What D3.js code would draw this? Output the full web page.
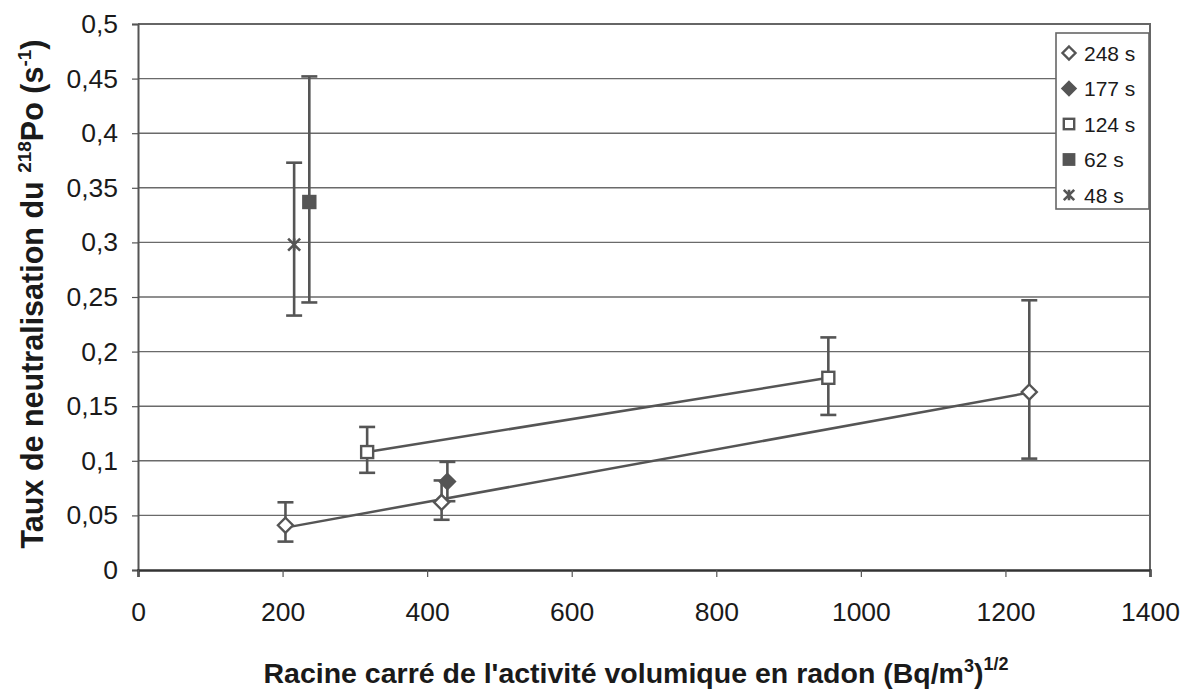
<!DOCTYPE html>
<html>
<head>
<meta charset="utf-8">
<script src="https://cdn.jsdelivr.net/npm/d3@7"></script>
<style>
  html, body { margin: 0; padding: 0; background: #fff; }
  svg { display: block; font-family: "Liberation Sans", Arial, sans-serif; }
</style>
</head>
<body>
<svg id="chart" width="1183" height="692"></svg>
<script>
// Series: neutralisation rate of 218Po vs sqrt of radon activity
const seriesNames = ["248 s", "177 s", "124 s", "62 s", "48 s"];
const markers     = ["diamondOpen", "diamondFilled", "squareOpen", "squareFilled", "star"];

const x248  = [204, 420, 1233];
const y248  = [0.041, 0.062, 0.163];
const lo248 = [0.026, 0.046, 0.102];
const hi248 = [0.062, 0.082, 0.247];

const x177  = [428];
const y177  = [0.081];
const lo177 = [0.063];
const hi177 = [0.099];

const x124  = [317, 955];
const y124  = [0.108, 0.176];
const lo124 = [0.089, 0.142];
const hi124 = [0.131, 0.213];

const x62   = [237];
const y62   = [0.337];
const lo62  = [0.245];
const hi62  = [0.452];

const x48   = [216];
const y48   = [0.298];
const lo48  = [0.233];
const hi48  = [0.373];

const xTicks = [0, 200, 400, 600, 800, 1000, 1200, 1400];
const yTicks = [0, 0.05, 0.1, 0.15, 0.2, 0.25, 0.3, 0.35, 0.4, 0.45, 0.5];

// series with a linear trend line
const trendSeries = ["248 s", "124 s"];

const build = (name, xs, ys, los, his) =>
  xs.map((x, i) => ({ series: name, x, y: ys[i], lo: los[i], hi: his[i] }));

const data = [
  build("248 s", x248, y248, lo248, hi248),
  build("177 s", x177, y177, lo177, hi177),
  build("124 s", x124, y124, lo124, hi124),
  build("62 s",  x62,  y62,  lo62,  hi62),
  build("48 s",  x48,  y48,  lo48,  hi48)
];

const ink = "#555";
const textInk = "#1a1a1a";
const svg = d3.select("#chart");
const margin = { left: 138, right: 1150, top: 24, bottom: 570 };

const x = d3.scaleLinear().domain([0, 1400]).range([margin.left, margin.right]);
const y = d3.scaleLinear().domain([0, 0.5]).range([margin.bottom, margin.top]);

// horizontal gridlines
svg.append("g")
  .selectAll("line")
  .data(yTicks.filter(t => t > 0))
  .join("line")
  .attr("x1", margin.left).attr("x2", margin.right)
  .attr("y1", d => y(d)).attr("y2", d => y(d))
  .attr("stroke", "#6a6a6a").attr("stroke-width", 1.4);

// plot frame (top and right)
svg.append("path")
  .attr("d", `M${margin.left},${margin.top}H${margin.right}V${margin.bottom}`)
  .attr("fill", "none").attr("stroke", "#666").attr("stroke-width", 2);

const fmt = d => String(d).replace(".", ",");

// y axis
const yAxis = svg.append("g")
  .attr("transform", `translate(${margin.left},0)`)
  .call(d3.axisLeft(y).tickValues(yTicks).tickFormat(fmt).tickSize(6).tickPadding(14));
yAxis.select(".domain").attr("stroke", "#555").attr("stroke-width", 2);
yAxis.selectAll(".tick line").attr("stroke", "#555").attr("stroke-width", 1.2);
yAxis.selectAll("text")
  .attr("font-size", 26.5).attr("fill", textInk)
  .attr("font-family", "'Liberation Sans', Arial, sans-serif");

// x axis
const xAxis = svg.append("g")
  .attr("transform", `translate(0,${margin.bottom})`)
  .call(d3.axisBottom(x).tickValues(xTicks).tickFormat(d3.format("d")).tickSize(7).tickPadding(25));
xAxis.select(".domain").attr("stroke", "#333").attr("stroke-width", 2.5);
xAxis.selectAll(".tick line").attr("stroke", "#555").attr("stroke-width", 1.2);
xAxis.selectAll("text")
  .attr("font-size", 26.5).attr("fill", textInk)
  .attr("font-family", "'Liberation Sans', Arial, sans-serif");

// trend lines (least squares fit across each series' x range)
trendSeries.forEach(name => {
  const pts = data[seriesNames.indexOf(name)];
  const mx = d3.mean(pts, d => d.x), my = d3.mean(pts, d => d.y);
  const sxy = d3.sum(pts, d => (d.x - mx) * (d.y - my));
  const sxx = d3.sum(pts, d => (d.x - mx) ** 2);
  const slope = sxy / sxx, icpt = my - slope * mx;
  const [x0, x1] = d3.extent(pts, d => d.x);
  svg.append("line")
    .attr("x1", x(x0)).attr("y1", y(icpt + slope * x0))
    .attr("x2", x(x1)).attr("y2", y(icpt + slope * x1))
    .attr("stroke", ink).attr("stroke-width", 2.5);
});

// error bars
const cap = 8;
const allPts = data.flat();
const eb = svg.append("g").attr("stroke", ink).attr("stroke-width", 2.6).attr("fill", "none");
allPts.forEach(d => {
  const cx = x(d.x);
  eb.append("line").attr("x1", cx).attr("x2", cx).attr("y1", y(d.lo)).attr("y2", y(d.hi));
  eb.append("line").attr("x1", cx - cap).attr("x2", cx + cap).attr("y1", y(d.lo)).attr("y2", y(d.lo));
  eb.append("line").attr("x1", cx - cap).attr("x2", cx + cap).attr("y1", y(d.hi)).attr("y2", y(d.hi));
});

// marker drawing
function drawMarker(g, type, cx, cy, s) {
  const h = s / 2;
  if (type === "diamondOpen" || type === "diamondFilled") {
    g.append("path")
      .attr("d", `M${cx},${cy - h}L${cx + h},${cy}L${cx},${cy + h}L${cx - h},${cy}Z`)
      .attr("fill", type === "diamondOpen" ? "#fff" : ink)
      .attr("stroke", ink).attr("stroke-width", 2.4);
  } else if (type === "squareOpen" || type === "squareFilled") {
    const q = h * 0.8;
    g.append("rect")
      .attr("x", cx - q).attr("y", cy - q).attr("width", 2 * q).attr("height", 2 * q)
      .attr("fill", type === "squareOpen" ? "#fff" : ink)
      .attr("stroke", ink).attr("stroke-width", 2.4);
  } else if (type === "star") {
    const q = h * 0.8;
    g.append("path")
      .attr("d", `M${cx - q},${cy - q}L${cx + q},${cy + q}M${cx + q},${cy - q}L${cx - q},${cy + q}M${cx},${cy - q}V${cy + q}`)
      .attr("fill", "none").attr("stroke", ink).attr("stroke-width", 2.6);
  }
}

const mk = svg.append("g");
data.forEach((pts, i) => {
  pts.forEach(d => drawMarker(mk, markers[i], x(d.x), y(d.y), 15));
});

// legend
const lg = svg.append("g");
lg.append("rect")
  .attr("x", 1056).attr("y", 33).attr("width", 93).attr("height", 176)
  .attr("fill", "#fff").attr("stroke", "#666").attr("stroke-width", 1.6);
seriesNames.forEach((name, i) => {
  const cy = 53 + i * 35.5;
  drawMarker(lg, markers[i], 1069, cy, 13);
  lg.append("text")
    .attr("x", 1084).attr("y", cy + 7.5)
    .attr("font-size", 21).attr("fill", textInk)
    .text(name);
});

// axis titles
svg.append("text")
  .attr("x", 636).attr("y", 683)
  .attr("text-anchor", "middle")
  .attr("font-size", 28.5).attr("font-weight", "bold").attr("fill", textInk)
  .call(t => {
    t.append("tspan").text("Racine carré de l'activité volumique en radon (Bq/m");
    t.append("tspan").attr("font-size", 18).attr("dy", -11).text("3");
    t.append("tspan").attr("dy", 11).text(")");
    t.append("tspan").attr("font-size", 18).attr("dy", -13).text("1/2");
  });

svg.append("text")
  .attr("transform", "translate(43,294) rotate(-90)")
  .attr("text-anchor", "middle")
  .attr("font-size", 30.5).attr("font-weight", "bold").attr("fill", textInk)
  .call(t => {
    t.append("tspan").text("Taux de neutralisation du ");
    t.append("tspan").attr("font-size", 19).attr("dy", -12).text("218");
    t.append("tspan").attr("dy", 12).text("Po (s");
    t.append("tspan").attr("font-size", 19).attr("dy", -12).text("-1");
    t.append("tspan").attr("dy", 12).text(")");
  });
</script>
</body>
</html>
